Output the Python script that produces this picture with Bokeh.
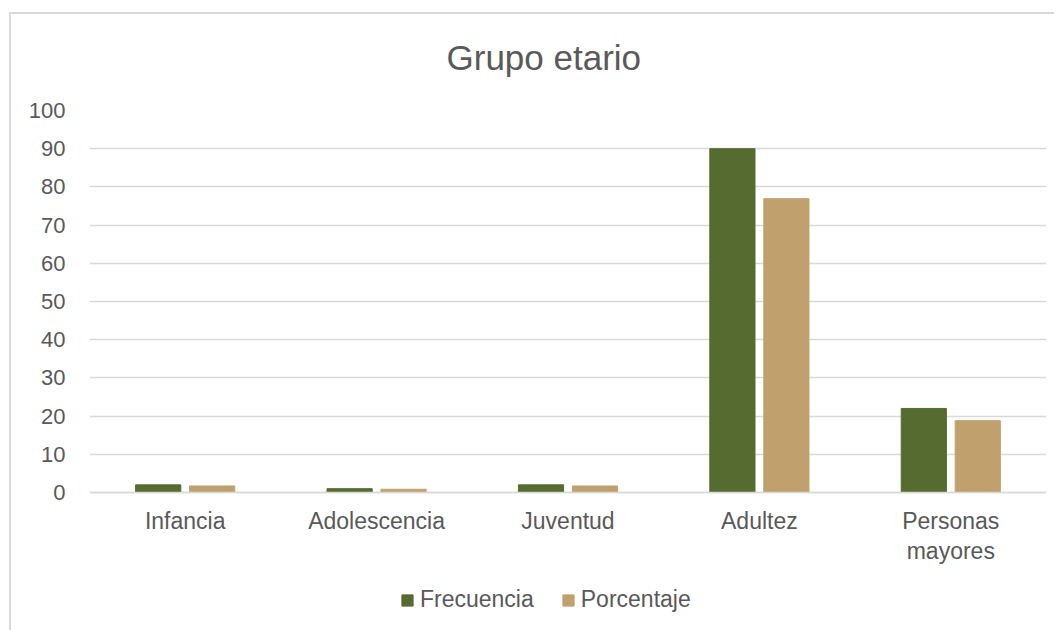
from bokeh.plotting import figure
from bokeh.models import (Range1d, FixedTicker, Legend, LegendItem, ColumnDataSource)
from bokeh.transform import dodge
from bokeh.embed import file_html
from bokeh.resources import INLINE

categories = ["Infancia", "Adolescencia", "Juventud", "Adultez", "Personas mayores"]
category_labels = ["Infancia", "Adolescencia", "Juventud", "Adultez", "Personas\nmayores"]
frecuencia = [2, 1, 2, 90, 22]
porcentaje = [1.71, 0.85, 1.71, 76.92, 18.80]
y_ticks = [0, 10, 20, 30, 40, 50, 60, 70, 80, 90, 100]
series_names = ["Frecuencia", "Porcentaje"]
title_text = "Grupo etario"

GREEN = "#556B2F"
TAN = "#C0A06D"
GRID = "#D9D9D9"
TXT = "#595959"
FONT = "Liberation Sans"

pos = list(range(len(categories)))
src = ColumnDataSource(dict(x=pos, cat=categories, f=frecuencia, p=porcentaje))

# frame: value 100 at y=110px, value 0 at y=492px, frame extends to the page bottom (630px)
px_per_unit = 382 / 100
p = figure(x_range=Range1d(-0.5, len(categories) - 0.5),
           y_range=Range1d(-(630 - 492) / px_per_unit, 100),
           frame_width=957, frame_height=520,
           min_border_left=89, min_border_right=8, min_border_top=110, min_border_bottom=0,
           output_backend="svg", toolbar_location=None,
           background_fill_color="white", border_fill_alpha=0)
p.outline_line_color = None
p.styles = {
    "background": "linear-gradient(#D9D9D9, #D9D9D9) 9px 12px / 100% 2px no-repeat, "
                  "linear-gradient(#D9D9D9, #D9D9D9) 9px 12px / 2px 100% no-repeat, white",
}

r1 = p.vbar(x=dodge("x", -0.141), top="f", width=0.236,
            source=src, fill_color=GREEN, line_color=GREEN)
r2 = p.vbar(x=dodge("x", 0.141), top="p", width=0.236,
            source=src, fill_color=TAN, line_color=TAN)

# title
p.title.text = title_text
p.title.align = "left"
p.title.offset = 357
p.title.standoff = 67
p.title.text_font = FONT
p.title.text_font_size = "35px"
p.title.text_font_style = "normal"
p.title.text_color = TXT

# axes
p.yaxis.ticker = FixedTicker(ticks=y_ticks)
p.yaxis.axis_line_color = None
p.yaxis.major_tick_line_color = None
p.yaxis.minor_tick_line_color = None
p.yaxis.major_tick_out = 0
p.yaxis.major_tick_in = 0
p.yaxis.major_label_standoff = 24
p.yaxis.major_label_text_font = FONT
p.yaxis.major_label_text_font_size = "22px"
p.yaxis.major_label_text_color = TXT

ax = p.xaxis[0]
ax.fixed_location = 0
ax.ticker = FixedTicker(ticks=pos)
ax.axis_line_color = GRID
ax.axis_line_width = 1.5
ax.major_tick_line_color = None
ax.minor_tick_line_color = None
ax.major_tick_out = 0
ax.major_tick_in = 0
ax.axis_label_standoff = 0
ax.major_label_standoff = 15
ax.major_label_text_font = FONT
ax.major_label_text_font_size = "23px"
ax.major_label_text_color = TXT
ax.major_label_text_line_height = 1.17
ax.major_label_overrides = {i: lab for i, lab in zip(pos, category_labels)}

p.xgrid.grid_line_color = None
p.ygrid.grid_line_color = GRID
p.ygrid.grid_line_width = 1.5

legend = Legend(items=[LegendItem(label=series_names[0], renderers=[r1]),
                       LegendItem(label=series_names[1], renderers=[r2])],
                location=(311, 17), orientation="horizontal",
                padding=0, margin=0, spacing=27, label_standoff=6,
                glyph_width=14, glyph_height=14,
                label_text_font=FONT, label_text_font_size="23px",
                label_text_color=TXT, border_line_color=None,
                background_fill_alpha=0)
p.add_layout(legend, "center")

open("out.html", "w").write(file_html(p, INLINE))
